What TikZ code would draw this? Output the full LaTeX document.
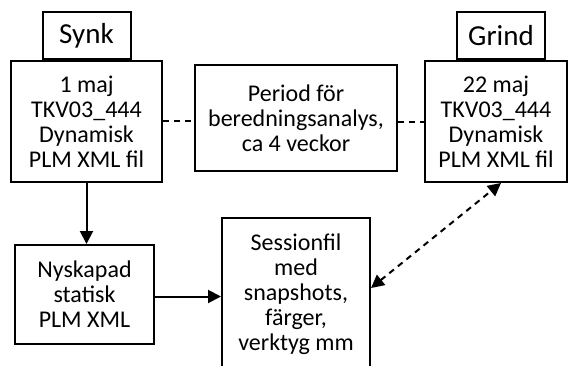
\documentclass[tikz,border=0pt]{standalone}
\usepackage{fontspec}
\setmainfont{Carlito}
\usetikzlibrary{arrows.meta}
\tikzset{
  box/.style={draw, line width=2pt, align=center, inner sep=0pt,
    font=\fontsize{24}{25}\selectfont},
  tag/.style={box, minimum width=88pt, minimum height=47pt,
    font=\fontsize{29}{30}\selectfont},
  tip/.tip={Triangle[length=13pt,width=13pt]},
  link/.style={line width=2pt, -tip},
  gap/.style={line width=2pt, dash pattern=on 6pt off 5pt},
}
\begin{document}
\begin{tikzpicture}[x=1pt,y=-1pt]
\path[use as bounding box, clip] (0,0) rectangle (569,365);
\fill[white] (0,0) rectangle (569,365);

% start and end states with their headings
\node[box, minimum width=151pt, minimum height=121pt] (d1) at (86.5,121.5)
  {1 maj\\TKV03\_444\\Dynamisk\\PLM XML fil};
\node[tag, anchor=south] (synk) at (d1.north) {Synk};
\node[box, minimum width=142pt, minimum height=121pt] (d2) at (496,121.5)
  {22 maj\\TKV03\_444\\Dynamisk\\PLM XML fil};
\node[tag, anchor=south, xshift=5pt] (grind) at (d2.north) {Grind};

% analysis period between the two states
\node[box, minimum width=202pt, minimum height=106pt] (period) at (296,118)
  {Period för\\beredningsanalys,\\ca 4 veckor};

% derived files
\node[box, minimum width=139pt, minimum height=99pt] (nysk) at (84.5,294.5)
  {Nyskapad\\statisk\\PLM XML};
\node[box, minimum width=148pt, minimum height=152pt] (sess) at (296,294)
  {Sessionfil\\med\\snapshots,\\färger,\\verktyg mm};

% connectors
\draw[gap] ([yshift=1pt]d1.east) -- ([yshift=1pt]d1.east -| period.west);
\draw[gap] ([yshift=-4pt]period.east) -- ([yshift=-4pt]period.east -| d2.west);
\draw[link] (d1.south) -- (d1.south |- nysk.north);
\draw[link] ([yshift=-2pt]nysk.east) -- ([yshift=-2pt]nysk.east -| sess.west);
\draw[gap, tip-tip] ([yshift=6pt]sess.east) -- ([xshift=5pt]d2.south);
\end{tikzpicture}
\end{document}
